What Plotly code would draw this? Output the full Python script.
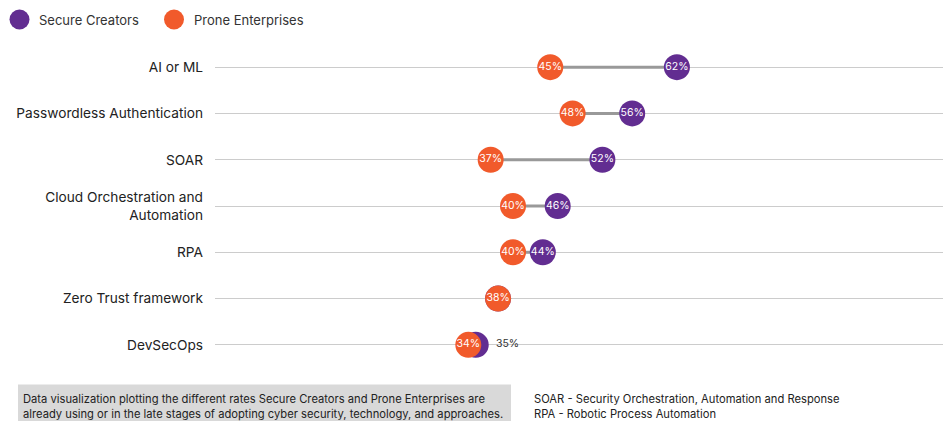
import plotly.graph_objects as go

W, H = 943, 421

# Adoption rates by capability
categories = [
    "AI or ML",
    "Passwordless Authentication",
    "SOAR",
    "Cloud Orchestration and<br>Automation",
    "RPA",
    "Zero Trust framework",
    "DevSecOps",
]
secure_creators = [62, 56, 52, 46, 44, 38, 35]
prone_enterprises = [45, 48, 37, 40, 40, 38, 34]

PURPLE = "#622d91"
ORANGE = "#f15a2b"
FONT = "Inter"

rows = list(range(len(categories)))

# plot area in pixel space
PX_LEFT, PX_RIGHT = 215, 943
PX_TOP, PX_BOTTOM = 44, 368
X_MAX = (PX_RIGHT - PX_LEFT) / 7.45


def px(x):
    return x / W


def py(y):
    return 1 - y / H


fig = go.Figure()

# connector lines between the two groups
lx, ly = [], []
for r, a, b in zip(rows, prone_enterprises, secure_creators):
    lx += [a, b, None]
    ly += [r, r, None]
fig.add_trace(go.Scatter(x=lx, y=ly, mode="lines",
                         line=dict(color="#999999", width=3),
                         hoverinfo="skip", showlegend=False))

# Secure Creators: label inside the dot unless the dots nearly overlap
sc_text = [f"{v}%" for v in secure_creators]
sc_pos = ["middle center"] * len(rows)
sc_col = ["white"] * len(rows)
for i, (a, b) in enumerate(zip(prone_enterprises, secure_creators)):
    if 0 < abs(b - a) < 3:
        sc_pos[i] = "middle right"
        sc_col[i] = "#333333"
fig.add_trace(go.Scatter(
    x=secure_creators, y=rows, mode="markers+text",
    marker=dict(size=26, color=PURPLE),
    text=[(" " + t) if p == "middle right" else t for t, p in zip(sc_text, sc_pos)],
    textposition=sc_pos,
    textfont=dict(family=FONT, size=10.5, color=sc_col),
    name="Secure Creators", showlegend=False))

fig.add_trace(go.Scatter(
    x=prone_enterprises, y=rows, mode="markers+text",
    marker=dict(size=26, color=ORANGE),
    text=[f"{v}%" for v in prone_enterprises],
    textposition="middle center",
    textfont=dict(family=FONT, size=10.5, color="white"),
    name="Prone Enterprises", showlegend=False))

# legend drawn as circles + labels
shapes = []
annotations = []
for cx, label, col, tx in [(19.5, "Secure Creators", PURPLE, 37),
                           (174, "Prone Enterprises", ORANGE, 192)]:
    shapes.append(dict(type="circle", xref="paper", yref="paper",
                       x0=px(cx - 10), x1=px(cx + 10), y0=py(29.5), y1=py(9.5),
                       fillcolor=col, line=dict(width=0)))
    annotations.append(dict(xref="paper", yref="paper", x=px(tx), y=py(19.5),
                            xanchor="left", yanchor="middle", showarrow=False,
                            text=label, font=dict(family=FONT, size=13, color="#333333")))

# footnote box and notes
shapes.append(dict(type="rect", xref="paper", yref="paper",
                   x0=px(18), x1=px(511), y0=py(421), y1=py(384.5),
                   fillcolor="#d9d9d9", line=dict(width=0), layer="below"))
annotations.append(dict(
    xref="paper", yref="paper", x=px(21), y=py(406.5), xanchor="left", yanchor="middle",
    showarrow=False, align="left",
    text="Data visualization plotting the different rates Secure Creators and Prone Enterprises are<br>"
         "already using or in the late stages of adopting cyber security, technology, and approaches.",
    font=dict(family=FONT, size=11.2, color="#222222")))
annotations.append(dict(
    xref="paper", yref="paper", x=px(532), y=py(406.5), xanchor="left", yanchor="middle",
    showarrow=False, align="left",
    text="SOAR - Security Orchestration, Automation and Response<br>RPA - Robotic Process Automation",
    font=dict(family=FONT, size=11.2, color="#222222")))

fig.update_layout(
    width=W, height=H,
    margin=dict(l=0, r=0, t=0, b=0),
    paper_bgcolor="white", plot_bgcolor="white",
    shapes=shapes, annotations=annotations,
    showlegend=False,
    xaxis=dict(domain=[px(PX_LEFT), 1], range=[0, X_MAX], visible=False,
               showgrid=False, zeroline=False, automargin=False, fixedrange=True),
    yaxis=dict(domain=[py(PX_BOTTOM), py(PX_TOP)], range=[len(rows) - 0.5, -0.5],
               tickvals=rows, ticktext=categories, ticks="", showline=False,
               showgrid=True, gridcolor="#cccccc", gridwidth=1, zeroline=False,
               ticklabelstandoff=11, automargin=False, fixedrange=True,
               tickfont=dict(family=FONT, size=13.7, color="#222222")),
)

fig.write_html("out.html")
